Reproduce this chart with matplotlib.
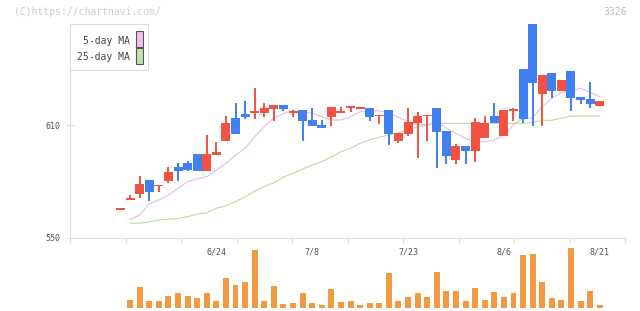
import numpy as np
from matplotlib import pyplot as plt
from matplotlib.patches import Rectangle

# daily candles, 6/10 .. 8/21
dates = ["6/10", "6/11", "6/12", "6/13", "6/14", "6/17", "6/18", "6/19", "6/20", "6/21",
         "6/24", "6/25", "6/26", "6/27", "6/28", "7/1", "7/2", "7/3", "7/4", "7/5",
         "7/8", "7/9", "7/10", "7/11", "7/12", "7/16", "7/17", "7/18", "7/19", "7/22",
         "7/23", "7/24", "7/25", "7/26", "7/29", "7/30", "7/31", "8/1", "8/2", "8/5",
         "8/6", "8/7", "8/8", "8/9", "8/13", "8/14", "8/15", "8/16", "8/19", "8/20",
         "8/21"]
opens = [564.8, 570.0, 573.4, 580.7, 577.3, 580.4, 587.6, 589.8, 594.6, 585.7,
         594.0, 601.5, 613.7, 615.9, 616.5, 616.4, 618.5, 620.7, 616.5, 618.0,
         612.7, 610.0, 614.3, 616.5, 619.2, 618.7, 619.1, 614.6, 618.0, 601.5,
         605.2, 611.1, 614.6, 619.1, 606.8, 591.4, 598.8, 596.2, 603.1, 614.8,
         604.2, 617.6, 639.9, 663.8, 626.5, 637.7, 628.1, 638.8, 624.9, 623.9,
         620.1]
closes = [565.0, 570.6, 578.6, 574.5, 577.7, 585.0, 585.7, 586.2, 585.7, 594.6,
          595.6, 611.1, 605.2, 614.3, 617.0, 619.1, 620.7, 618.5, 617.0, 612.1,
          609.5, 608.4, 619.6, 617.0, 619.6, 619.1, 614.3, 615.0, 605.2, 605.8,
          611.6, 614.8, 615.0, 606.3, 593.5, 598.8, 596.2, 611.6, 611.1, 611.1,
          618.0, 618.0, 613.2, 632.4, 636.6, 628.1, 634.0, 624.4, 623.3, 621.2,
          622.8]
highs = [565.0, 572.7, 582.9, 580.7, 577.7, 587.6, 589.8, 590.8, 594.6, 604.7,
         601.0, 614.8, 621.7, 622.8, 629.7, 621.7, 620.7, 620.7, 618.0, 618.0,
         619.1, 612.7, 619.6, 619.6, 619.6, 619.6, 619.1, 615.0, 618.0, 605.8,
         619.1, 616.9, 615.0, 619.1, 606.8, 599.9, 598.8, 613.7, 614.8, 621.7,
         618.0, 619.1, 639.9, 663.8, 636.6, 637.7, 634.0, 638.8, 624.9, 632.9,
         622.8]
lows = [564.8, 570.0, 571.3, 569.7, 574.5, 579.3, 580.4, 585.7, 585.7, 585.7,
        594.0, 601.5, 605.2, 613.2, 613.2, 614.3, 612.1, 617.5, 614.3, 601.5,
        609.5, 608.4, 609.5, 616.5, 616.8, 618.3, 612.1, 610.5, 599.4, 600.4,
        604.2, 592.4, 601.5, 587.1, 589.2, 589.2, 589.2, 590.3, 603.1, 611.1,
        604.2, 612.1, 611.1, 609.5, 609.5, 624.4, 628.1, 617.5, 621.2, 619.1,
        620.1]
# moving averages as drawn (from the 2nd candle on)
ma5 = [559.8, 562.1, 568.0, 570.1, 572.7, 576.3, 579.8, 581.4, 582.5, 586.0,
       589.6, 594.0, 597.6, 603.8, 609.1, 613.6, 616.2, 617.6, 617.1, 616.2,
       614.4, 612.7, 612.7, 614.4, 617.1, 617.6, 617.6, 616.6, 614.1, 611.8,
       610.4, 610.4, 611.8, 608.3, 605.6, 602.9, 601.1, 601.1, 602.0, 604.7,
       610.0, 613.6, 613.9, 619.8, 624.2, 627.4, 628.1, 629.6, 627.4, 625.1]
ma25 = [557.7, 557.7, 558.5, 559.4, 559.8, 560.3, 561.2, 562.5, 563.3, 565.7,
        566.9, 569.2, 571.8, 574.9, 577.2, 579.3, 582.2, 584.3, 586.6, 588.7,
        590.5, 593.1, 595.8, 597.6, 600.3, 602.0, 603.5, 604.7, 605.9, 607.3,
        609.1, 610.0, 610.9, 610.9, 610.9, 610.9, 610.9, 610.9, 610.9, 610.9,
        610.9, 610.9, 611.4, 612.5, 612.5, 613.6, 614.8, 614.8, 614.8, 614.8]
# volume (hundreds of shares)
volumes = [0, 770, 2070, 670, 670, 1170, 1470, 1170, 970, 1470,
           670, 2970, 2270, 2570, 5770, 670, 2170, 370, 470, 1470,
           470, 270, 1870, 570, 670, 270, 470, 470, 3470, 670,
           1070, 1470, 1070, 3570, 1670, 1670, 670, 1970, 770, 1570,
           1070, 1470, 5270, 5370, 2570, 970, 770, 5970, 670, 1670,
           270]
yticks = [550, 610]
label_dates = ["6/24", "7/8", "7/23", "8/6", "8/21"]

W, H = 640, 311
RED = "#f25241"
BLUE = "#4080f0"
GRID = "#dddddd"
MONO = "DejaVu Sans Mono"


def fx(px):
    return px / W


def fy(py):
    return 1 - py / H


def main():
    idx = np.arange(len(dates))
    o, c = np.array(opens), np.array(closes)
    colors = [RED if cc >= oo else BLUE for oo, cc in zip(o, c)]

    fig = plt.figure(figsize=(W / 100, H / 100), dpi=100)
    ax = fig.add_axes([fx(70), fy(237.7), fx(625.3) - fx(70), fy(24) - fy(237.7)])
    axv = fig.add_axes([fx(70), fy(307.7), fx(625.3) - fx(70), fy(237.7) - fy(307.7)])

    xlim = ((70 - 120.5) / 9.585, (625.3 - 120.5) / 9.585)

    # candles
    ax.vlines(idx, lows, highs, colors=colors, lw=1.4, zorder=3)
    body = np.maximum(np.abs(c - o), 0.9)
    ax.bar(idx, body, bottom=np.minimum(o, c), width=0.94, color=colors,
           linewidth=0, zorder=4)
    ax.plot(idx[1:], ma5, color="#eab8ea", lw=0.8, zorder=2)
    ax.plot(idx[1:], ma25, color="#b8dca8", lw=0.8, zorder=2)

    ax.set_xlim(*xlim)
    ax.set_ylim(550, 550 + (237.7 - 24) / 1.878)
    for s in ["top", "right"]:
        ax.spines[s].set_visible(False)
    for s in ["left", "bottom"]:
        ax.spines[s].set_color(GRID)
        ax.spines[s].set_linewidth(0.8)
    ax.set_yticks(yticks)
    ax.set_yticklabels([str(t) for t in yticks], fontsize=6, family=MONO, color="#555555")
    ax.tick_params(axis="y", direction="inout", length=6, width=0.8, color=GRID, pad=4)
    ax.set_xticks(np.linspace(xlim[0], xlim[1], 11))
    ax.set_xticklabels([])
    ax.tick_params(axis="x", direction="out", length=3.6, width=0.8, color=GRID)
    ax.patch.set_alpha(0)

    # volume
    axv.bar(idx, volumes, width=0.62, color="#f29a42", linewidth=0)
    axv.set_xlim(*xlim)
    axv.set_ylim(0, 6970)
    axv.axis("off")
    for d in label_dates:
        axv.text(dates.index(d), 0.8, d, transform=axv.get_xaxis_transform(),
                 ha="center", va="center", fontsize=6, family=MONO, color="#555555")

    # legend box
    fig.patches.append(Rectangle((fx(70), fy(70)), fx(148) - fx(70), fy(24) - fy(70),
                                 transform=fig.transFigure, fill=True, facecolor="white",
                                 edgecolor=GRID, lw=0.8, zorder=5))
    for label, col, ty, sy in [("5-day MA", "#f0c0f0", 40.7, 31),
                               ("25-day MA", "#c0e2b0", 56.7, 48.3)]:
        fig.text(fx(130), fy(ty), label, ha="right", va="center", fontsize=7,
                 family=MONO, color="#444444", zorder=6)
        fig.patches.append(Rectangle((fx(136.3), fy(sy + 15.5)), fx(6.4), fy(0) - fy(15.5),
                                     transform=fig.transFigure, facecolor=col,
                                     edgecolor="#555555", lw=0.8, zorder=6))

    fig.text(fx(14), fy(12.3), "(C)https://chartnavi.com/", ha="left", va="center",
             fontsize=7, family=MONO, color="#cccccc")
    fig.text(fx(627), fy(12.3), "3326", ha="right", va="center",
             fontsize=7, family=MONO, color="#bbbbbb")

    fig.savefig("out.png", dpi=100)


if __name__ == "__main__":
    main()
